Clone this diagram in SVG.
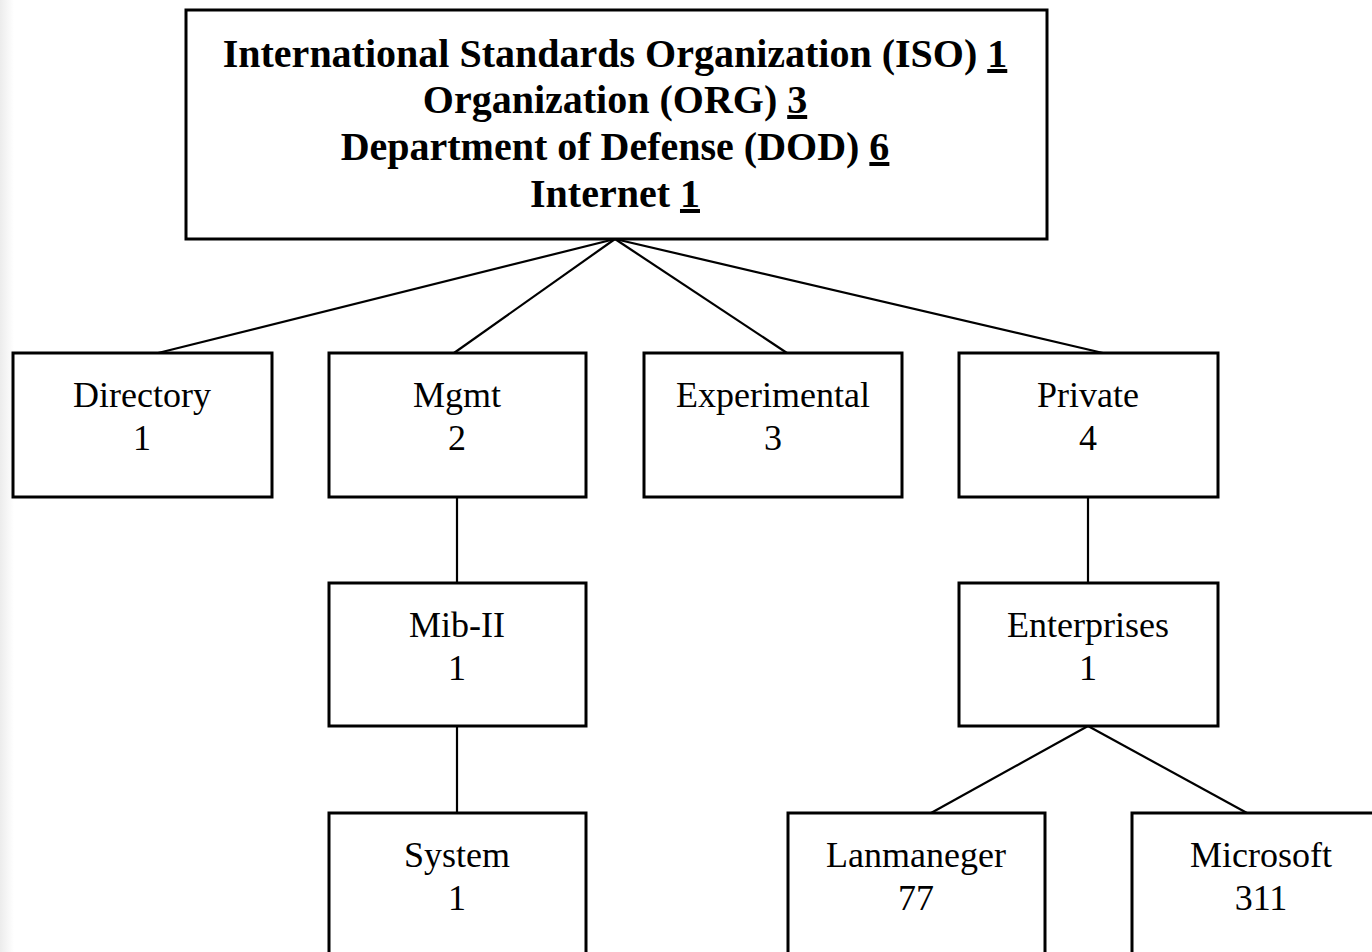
<svg xmlns="http://www.w3.org/2000/svg" width="1372" height="952" viewBox="0 0 1372 952">
<defs>
<linearGradient id="edge" x1="0" y1="0" x2="1" y2="0">
<stop offset="0" stop-color="#ececec"/>
<stop offset="1" stop-color="#ffffff"/>
</linearGradient>
<style>
.box{fill:#fff;stroke:#000;stroke-width:3}
.ln{stroke:#000;stroke-width:2.2;fill:none}
.t{font-family:"Liberation Serif","Times New Roman",serif;font-size:36px;fill:#000;text-anchor:middle}
.b{font-family:"Liberation Serif","Times New Roman",serif;font-size:40px;font-weight:bold;fill:#000;text-anchor:middle}
.u{text-decoration:underline}
</style>
</defs>
<rect width="1372" height="952" fill="#fff"/>
<rect x="0" y="0" width="14" height="952" fill="url(#edge)"/>
<g id="connectors">
<line class="ln" x1="615" y1="239" x2="158" y2="353"/>
<line class="ln" x1="615" y1="239" x2="454" y2="353"/>
<line class="ln" x1="615" y1="239" x2="787" y2="353"/>
<line class="ln" x1="615" y1="239" x2="1103" y2="353"/>
<line class="ln" x1="457" y1="497" x2="457" y2="583"/>
<line class="ln" x1="1088" y1="497" x2="1088" y2="583"/>
<line class="ln" x1="457" y1="726" x2="457" y2="813"/>
<line class="ln" x1="1088" y1="726" x2="931" y2="813"/>
<line class="ln" x1="1088" y1="726" x2="1247" y2="813"/>
</g>
<g id="iso">
<rect class="box" x="186" y="10" width="861" height="229"/>
<text class="b" x="615" y="67">International Standards Organization (ISO) <tspan class="u">1</tspan></text>
<text class="b" x="615" y="113">Organization (ORG) <tspan class="u">3</tspan></text>
<text class="b" x="615" y="160">Department of Defense (DOD) <tspan class="u">6</tspan></text>
<text class="b" x="615" y="207">Internet <tspan class="u">1</tspan></text>
</g>
<g id="directory">
<rect class="box" x="13" y="353" width="259" height="144"/>
<text class="t" x="142" y="407">Directory</text>
<text class="t" x="142" y="450">1</text>
</g>
<g id="mgmt">
<rect class="box" x="329" y="353" width="257" height="144"/>
<text class="t" x="457" y="407">Mgmt</text>
<text class="t" x="457" y="450">2</text>
</g>
<g id="experimental">
<rect class="box" x="644" y="353" width="258" height="144"/>
<text class="t" x="773" y="407">Experimental</text>
<text class="t" x="773" y="450">3</text>
</g>
<g id="private">
<rect class="box" x="959" y="353" width="259" height="144"/>
<text class="t" x="1088" y="407">Private</text>
<text class="t" x="1088" y="450">4</text>
</g>
<g id="mib2">
<rect class="box" x="329" y="583" width="257" height="143"/>
<text class="t" x="457" y="637">Mib-II</text>
<text class="t" x="457" y="680">1</text>
</g>
<g id="enterprises">
<rect class="box" x="959" y="583" width="259" height="143"/>
<text class="t" x="1088" y="637">Enterprises</text>
<text class="t" x="1088" y="680">1</text>
</g>
<g id="system">
<rect class="box" x="329" y="813" width="257" height="160"/>
<text class="t" x="457" y="867">System</text>
<text class="t" x="457" y="910">1</text>
</g>
<g id="lanmaneger">
<rect class="box" x="788" y="813" width="257" height="160"/>
<text class="t" x="916" y="867">Lanmaneger</text>
<text class="t" x="916" y="910">77</text>
</g>
<g id="microsoft">
<rect class="box" x="1132" y="813" width="257" height="160"/>
<text class="t" x="1261" y="867">Microsoft</text>
<text class="t" x="1261" y="910">311</text>
</g>
</svg>
